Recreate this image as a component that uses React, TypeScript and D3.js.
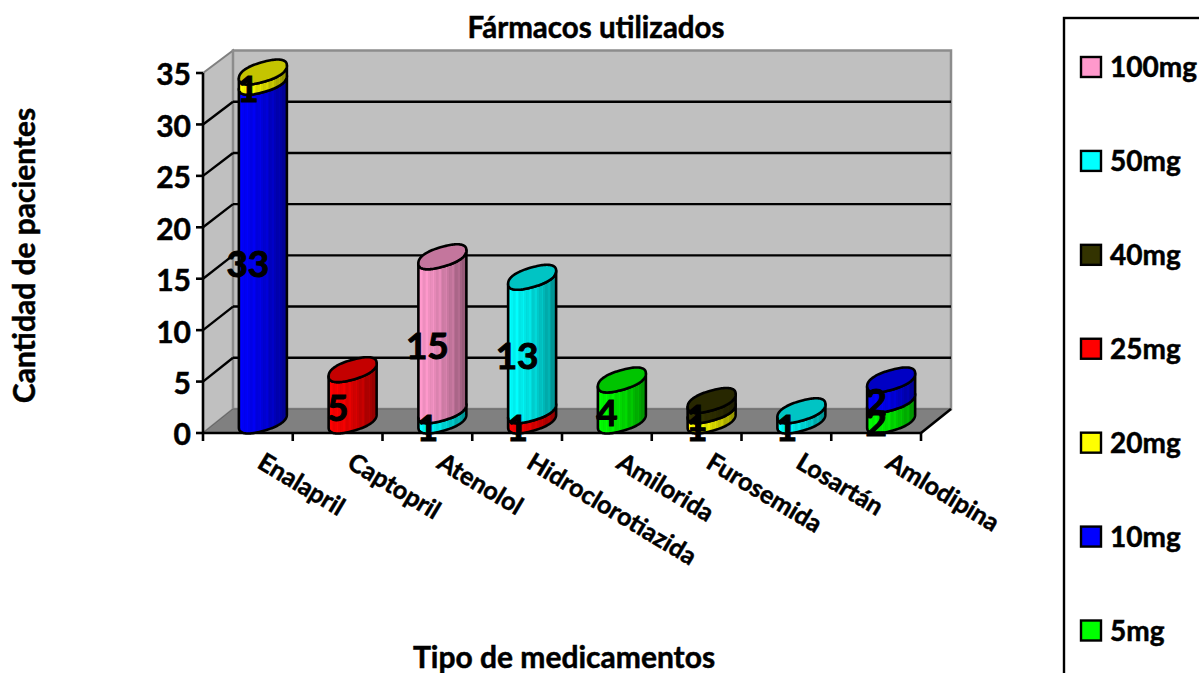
import React from "react";
import * as d3 from "d3";

const categories = ["Enalapril", "Captopril", "Atenolol", "Hidroclorotiazida", "Amilorida", "Furosemida", "Losartán", "Amlodipina"];
const seriesNames = ["5mg", "10mg", "20mg", "25mg", "40mg", "50mg", "100mg"];
const seriesColors = ["#00ff00", "#0000ff", "#ffff00", "#ff0000", "#333300", "#00ffff", "#ff99cc"];
const values5mg = [0, 0, 0, 0, 4, 0, 0, 2];
const values10mg = [33, 0, 0, 0, 0, 0, 0, 2];
const values20mg = [1, 0, 0, 0, 0, 1, 0, 0];
const values25mg = [0, 5, 0, 1, 0, 0, 0, 0];
const values40mg = [0, 0, 0, 0, 0, 1, 0, 0];
const values50mg = [0, 0, 1, 13, 0, 0, 1, 0];
const values100mg = [0, 0, 15, 0, 0, 0, 0, 0];
const seriesValues = [values5mg, values10mg, values20mg, values25mg, values40mg, values50mg, values100mg];
const yTicks = [0, 5, 10, 15, 20, 25, 30, 35];

const FONT = "Lato, Carlito, sans-serif";
const depthX = 30;
const x = d3.scaleBand<string>().domain(categories).range([203, 921]);
const yFront = d3.scaleLinear().domain([0, 35]).range([433, 73]);
const yBack = d3.scaleLinear().domain([0, 35]).range([409, 50.5]);
const yMid = (v: number) => (yFront(v) + yBack(v)) / 2;
const A = 24;
const K = 6.5;
const B = 10;
const P = 0.85;

const spow = (v: number) => Math.sign(v) * Math.pow(Math.abs(v), P);
const ellipsePt = (cx: number, cy: number, t: number): [number, number] => {
  const c = spow(Math.cos(t));
  const s = spow(Math.sin(t));
  return [cx + A * c, cy - K * c + B * s];
};
const line = d3.line();
const steps = d3.range(0, 61).map((i) => (i / 60) * Math.PI);

function sidePath(cx: number, cy0: number, cy1: number) {
  const lower = steps.map((t) => ellipsePt(cx, cy0, t));
  const upper = steps.map((t) => ellipsePt(cx, cy1, t)).reverse();
  return line([...lower, ...upper])! + "Z";
}
function ellipsePath(cx: number, cy: number) {
  return line(d3.range(0, 121).map((i) => ellipsePt(cx, cy, (i / 120) * 2 * Math.PI)))! + "Z";
}
function shade(c: string, f: number) {
  const r = d3.rgb(c);
  return d3.rgb(r.r * f, r.g * f, r.b * f).formatHex();
}
const STRIPES = 30;
function stops(color: string) {
  const out: React.ReactElement[] = [];
  d3.range(STRIPES).forEach((i) => {
    const u = i / STRIPES;
    const base = 0.97 - 0.42 * Math.pow(u, 1.6);
    const f = base + (i % 4 === 1 ? 0.05 : 0) - (i % 4 === 3 ? 0.03 : 0);
    const col = shade(color, Math.min(1, f));
    out.push(<stop key={i + "a"} offset={u} stopColor={col} />);
    out.push(<stop key={i + "b"} offset={(i + 1) / STRIPES} stopColor={col} />);
  });
  return out;
}

const heavy = { stroke: "#000", strokeWidth: 0.5, paintOrder: "stroke" } as const;

export default function App() {
  const stacks = d3
    .stack<number>()
    .keys(d3.range(seriesNames.length) as any)
    .value((i: number, k: any) => seriesValues[k][i])(d3.range(categories.length));

  const bw = x.bandwidth();
  const [x0, x1] = x.range();
  const cols = categories.map((c, i) => ({ c, i, fx: x(c)! + bw / 2, cx: x(c)! + bw / 2 + depthX / 2 }));
  const legendYs = d3.scalePoint<string>().domain([...seriesNames].reverse()).range([67, 630.5]);

  return (
    <svg width={1199} height={673} style={{ position: "absolute", left: 0, top: 0, background: "#fff" }} fontFamily={FONT} fontWeight={700}>
      <defs>
        {seriesColors.map((c, i) => (
          <linearGradient key={i} id={"g" + i} x1="0" x2="1" y1="0" y2="0">
            {stops(c)}
          </linearGradient>
        ))}
      </defs>
      <polygon points={`${x0},${yFront(35)} ${x0 + depthX},${yBack(35)} ${x0 + depthX},${yBack(0)} ${x0},${yFront(0)}`} fill="#c0c0c0" stroke="#808080" strokeWidth={2} />
      <polygon points={`${x0 + depthX},${yBack(35)} ${x1 + depthX},${yBack(35)} ${x1 + depthX},${yBack(0)} ${x0 + depthX},${yBack(0)}`} fill="#c0c0c0" stroke="#8c8c8c" strokeWidth={2.5} />
      <polygon points={`${x0},${yFront(0)} ${x0 + depthX},${yBack(0)} ${x1 + depthX},${yBack(0)} ${x1},${yFront(0)}`} fill="#808080" stroke="#666" strokeWidth={1} />
      {yTicks.filter((t) => t > 0 && t < 35).map((t) => (
        <g key={t} stroke="#000" strokeWidth={2.4}>
          <line x1={x0} y1={yFront(t)} x2={x0 + depthX} y2={yBack(t)} />
          <line x1={x0 + depthX} y1={yBack(t)} x2={x1 + depthX} y2={yBack(t)} />
        </g>
      ))}
      <g stroke="#000" strokeWidth={2.6}>
        <line x1={x0} x2={x0} y1={yFront(35)} y2={yFront(0)} />
        <line x1={x0} x2={x1} y1={yFront(0)} y2={yFront(0)} />
        <line x1={x1} x2={x1 + depthX} y1={yFront(0)} y2={yBack(0)} />
        {yTicks.map((t) => (
          <line key={t} x1={196} x2={x0} y1={yFront(t)} y2={yFront(t)} />
        ))}
        {[...categories.map((c) => x(c)!), x1].map((px, i) => (
          <line key={i} x1={px} x2={px} y1={yFront(0)} y2={yFront(0) + 8} />
        ))}
      </g>
      {cols.map(({ c, i, cx }) => {
        const segs = stacks.map((s, k) => ({ k, y0: s[i][0], y1: s[i][1] })).filter((s) => s.y1 > s.y0);
        const top = segs[segs.length - 1];
        return (
          <g key={c} stroke="#000" strokeWidth={2.6} strokeLinejoin="round">
            {segs.map((s) => (
              <path key={s.k} d={sidePath(cx, yMid(s.y0), yMid(s.y1))} fill={`url(#g${s.k})`} />
            ))}
            <path d={ellipsePath(cx, yMid(top.y1))} fill={shade(seriesColors[top.k], 0.77)} />
          </g>
        );
      })}
      {cols.map(({ c, i, fx }) =>
        stacks.map((s, k) =>
          seriesValues[k][i] > 0 ? (
            <text key={c + k} x={fx} y={yFront((s[i][0] + s[i][1]) / 2)} dy="0.36em" textAnchor="middle" fontSize={37} fill="#000" {...heavy} strokeWidth={1}>
              {seriesValues[k][i]}
            </text>
          ) : null,
        ),
      )}
      {yTicks.map((t) => (
        <text key={t} x={191} y={yFront(t) + 1} dy="0.38em" textAnchor="end" fontSize={30} {...heavy}>
          {t}
        </text>
      ))}
      {cols.map(({ c, fx }) => (
        <text key={c} transform={`translate(${fx + 8},${467}) rotate(31)`} fontSize={25} {...heavy}>
          {c}
        </text>
      ))}
      <text x={596} y={38} textAnchor="middle" fontSize={29.5} {...heavy}>Fármacos utilizados</text>
      <text x={564} y={668} textAnchor="middle" fontSize={30} {...heavy}>Tipo de medicamentos</text>
      <text transform="translate(35,255.5) rotate(-90)" textAnchor="middle" fontSize={30} {...heavy}>Cantidad de pacientes</text>
      <rect x={1064} y={18} width={170} height={700} fill="#fff" stroke="#000" strokeWidth={2.4} />
      {[...seriesNames].reverse().map((n) => {
        const idx = seriesNames.indexOf(n);
        const ly = legendYs(n)!;
        return (
          <g key={n}>
            <rect x={1081} y={ly - 10} width={20} height={20} fill={seriesColors[idx]} stroke="#000" strokeWidth={2.4} />
            <text x={1110} y={ly} dy="0.36em" fontSize={28} {...heavy}>{n}</text>
          </g>
        );
      })}
    </svg>
  );
}
